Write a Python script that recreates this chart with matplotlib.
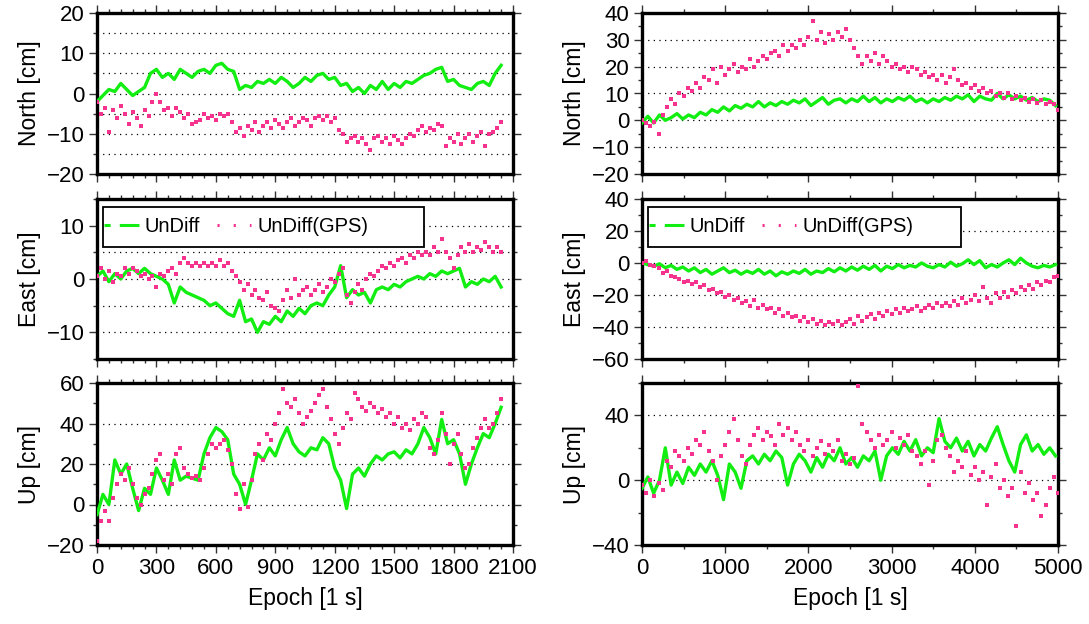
import matplotlib
matplotlib.use("Agg")
import matplotlib.pyplot as plt
from matplotlib.ticker import MultipleLocator
from matplotlib.lines import Line2D
from matplotlib.patches import Rectangle
import numpy as np

plt.rcParams['font.family'] = ['Liberation Sans', 'DejaVu Sans']

GREEN = '#12ee12'
PINK = '#f5338f'

# sample epochs (left run ~2040 s, right run ~5000 s)
ep_left_g = np.arange(0, 2041, 30)
ep_left_p = np.arange(0, 2041, 20)
ep_right_g = np.arange(0, 4971, 70)
ep_right_p = np.arange(0, 5001, 50)

# ---- left column, UnDiff (green) ----
north_l = [-2, -0.5, 1, 0.5, 2.5, 1, -0.5, 0.5, 1.5, 5,
           6, 4, 5, 3.5, 6, 5, 4, 5.5, 6, 5,
           7, 7.5, 6, 5.5, 1, 2, 1.5, 3, 2.5, 3.5,
           2.5, 4, 3, 1.5, 2.5, 4, 3, 4.5, 5, 3.5,
           4, 2, 2.5, 0.5, 1.5, 0, 2, 1, 3, 1,
           2.5, 1.5, 3, 2.5, 3.5, 4.5, 5, 6, 6.5, 3,
           3.5, 2, 1.5, 1, 2.5, 3, 2, 5, 7]
east_l = [0.5, 1.5, -0.5, 1, 0, 1.5, 2, 1, 2, 1,
          0.5, 0, -1, -4.5, -1.5, -2.5, -3, -3.5, -4, -5,
          -4.5, -5.5, -6.5, -7, -4, -8, -7.5, -10, -8, -8.5,
          -7, -8, -6, -7, -5.5, -6.5, -5, -4.5, -5, -3,
          -1.5, 2.5, -3.5, -2, -3, -2.5, -4.5, -2, -1.5, -2,
          -1, -1.5, -0.5, 0, 0.5, 0, 1, 0.5, 1.5, 1,
          1.5, 2, -1.5, -0.5, -1, 0, -0.5, 0.5, -1.5]
up_l = [-5, 5, 0, 22, 15, 20, 8, -3, 8, 5,
        18, 12, 5, 22, 12, 14, 13, 12, 25, 33,
        38, 36, 32, 15, 10, 0, 12, 25, 22, 28,
        24, 32, 38, 30, 26, 24, 28, 27, 33, 30,
        18, 12, -2, 15, 18, 14, 20, 24, 22, 25,
        26, 23, 27, 25, 30, 38, 33, 25, 42, 30,
        32, 25, 10, 20, 28, 35, 33, 40, 48]

# ---- left column, UnDiff(GPS) (pink) ----
north_lp = [-2, -5, -3.5, -9.5, -4, -6, -3, -5, -7.5, -4.5,
            -6, -8, -4, -5.5, -2, 0, -2, -4, -3.5, -5.5,
            -3.5, -4.5, -6, -5, -7.5, -7, -6.5, -5, -6, -5.5,
            -6.5, -5, -5.5, -5, -7, -9.5, -8.5, -10.5, -8, -9,
            -7, -9.5, -8, -7, -8.5, -6.5, -7.5, -8.5, -7, -6,
            -8, -7, -6, -6.5, -8, -6, -5.5, -6.5, -5.5, -7,
            -6, -9, -10, -12, -11, -10.5, -12, -11, -12.5, -14,
            -11, -10.5, -12, -11, -12.5, -10.5, -11.5, -12.5, -11, -10,
            -10.5, -9, -8, -9.5, -8.5, -9, -7.5, -8, -13, -11,
            -12, -10, -12.5, -11, -10, -12, -10.5, -9.5, -13, -10,
            -9.5, -8.5, -7]
east_lp = [0.5, 2, 0, 1.5, -0.5, 1, 0.5, 2, 1, 2,
           1.5, 0.5, 1, 0, 0.5, -1.5, 1, 0.5, 1.5, 2,
           1, 3, 4, 3, 2.5, 3, 2.5, 3, 2.5, 3,
           2.5, 3.5, 2.5, 3, 1.5, 0.5, -0.5, -2, -1, -3,
           -2, -3.5, -4, -2.5, -5, -5.5, -6, -4, -2, -3.5,
           0, -3, -2, -1.5, -3, -2, -1, -2.5, -1.5, 0,
           -0.5, 1, 2, -3, -4.5, -2.5, -1, -2, 0, 1,
           0.5, 1.5, 2.5, 2, 3, 2.5, 3.5, 4, 3, 4.5,
           4, 5, 4.5, 5, 4.5, 6, 5, 7.5, 5, 4,
           2, 4.5, 6, 5, 6.5, 5, 6, 5.5, 7, 6,
           5, 6, 5]
up_lp = [-18, -8, -3, -8, 3, 10, 15, 12, 18, 10,
         3, 0, 5, 8, 15, 22, 25, 12, 15, 10,
         25, 28, 18, 15, 13, 14, 12, 18, 25, 30,
         28, 30, 32, 27, 20, 5, -2, 10, -1, 12,
         25, 30, 22, 35, 32, 40, 45, 57, 50, 48,
         52, 45, 40, 43, 46, 50, 54, 57, 48, 42,
         35, 30, 38, 45, 42, 55, 52, 48, 46, 50,
         48, 45, 47, 43, 45, 40, 43, 38, 40, 37,
         42, 40, 45, 43, 28, 25, 32, 45, 35, 20,
         30, 35, 25, 18, 20, 28, 33, 38, 42, 38,
         40, 45, 52]

# ---- right column, UnDiff (green) ----
north_r = [-1, 1.5, -1, 2, 0, 1, 2.5, 0.5, 2, 1,
           3, 2, 4, 3, 5, 3.5, 5.5, 4.5, 6, 5,
           7, 5, 6.5, 5.5, 7, 6, 7.5, 6.5, 8, 5.5,
           7, 8.5, 6, 7.5, 8, 6.5, 8, 7, 9, 7,
           8.5, 6.5, 8, 7, 8.5, 7.5, 9, 7, 8, 6.5,
           8, 7, 8.5, 7.5, 9, 8, 9.5, 7, 9, 8,
           7.5, 10, 8, 9.5, 8, 9, 7.5, 8.5, 7, 8,
           7.5, 5.5]
east_r = [0, -1, -2, -0.5, -3, -1.5, -4, -2.5, -5, -3,
          -6, -4, -7, -5, -3, -6, -4.5, -7, -5, -6.5,
          -4, -7, -5, -8, -5.5, -7, -5, -6.5, -4, -7,
          -5, -6, -3.5, -5.5, -3, -5, -2.5, -4.5, -2, -4,
          -1.5, -5, -2, -3.5, -1, -3, -1.5, -2.5, 0, -2,
          -3, -1, -2.5, 0.5, -2, -0.5, 2, -1, 1.5, -3,
          -1, -2.5, 0, 2, -1, 3, 0, -2, -3, -1.5,
          -2.5, -1]
up_r = [-5, 2, -8, 0, 20, -3, 5, -2, 8, 3,
        10, 5, 12, 3, -12, 10, 5, -5, 12, 15,
        10, 16, 12, 18, 14, -3, 10, 16, 12, 5,
        14, 8, 16, 12, 20, 10, 14, 8, 15, 12,
        18, 0, 15, 20, 16, 24, 18, 25, 15, 20,
        17, 38, 24, 20, 26, 18, 24, 15, 22, 18,
        26, 33, 22, 12, 5, 22, 28, 18, 22, 16,
        20, 15]

# ---- right column, UnDiff(GPS) (pink) ----
north_rp = [0, -1, -2, -0.5, -5, 2, 5, 8, 6, 10,
            9, 12, 11, 14, 12, 16, 15, 19, 14, 20,
            17, 19, 21, 18, 20, 19, 23, 20, 22, 24,
            23, 25, 26, 24, 28, 26, 28, 27, 30, 28,
            31, 37, 30, 33, 29, 32, 30, 33, 31, 34,
            30, 27, 24, 21, 24, 22, 25, 21, 24, 22,
            20, 21, 19, 20, 18, 20, 19, 17, 18, 16,
            17, 15, 17, 14, 16, 19, 15, 13, 14, 12,
            13, 11, 12, 10, 11, 9, 10, 8.5, 10, 8,
            9, 7.5, 8.5, 7, 8, 6.5, 7.5, 6, 7, 6,
            4]
east_rp = [0, 1, -1, -2, -3, -6, -5, -8, -9, -10,
           -12, -11, -13, -12, -15, -14, -17, -16, -19, -18,
           -21, -20, -23, -22, -25, -24, -27, -23, -28, -26,
           -29, -28, -31, -29, -33, -31, -34, -33, -36, -34,
           -37, -35, -38, -36, -39, -37, -38, -36, -39, -37,
           -35, -38, -33, -36, -34, -32, -35, -31, -33, -30,
           -32, -29, -31, -28, -30, -29, -27, -30, -28, -26,
           -28, -25, -27, -25, -27, -24, -26, -22, -25, -23,
           -20, -24, -15, -22, -25, -19, -22, -18, -21, -17,
           -19, -15, -17, -14, -16, -12, -14, -11, -12, -9,
           -8]
up_rp = [-3, -8, 0, -10, -2, -6, 12, 8, 18, 15,
         12, 20, 16, 25, 22, 30, 18, 12, 0, 15,
         22, 30, 38, 25, 15, 10, 22, 28, 32, 25,
         30, 27, 22, 35, 28, 32, 25, 30, 22, 18,
         25, 15, 20, 24, 16, 22, 18, 25, 12, 16,
         10, 14, 58, 35, 30, 25, 20, 28, 22, 25,
         30, 20, 26, 22, 28, 18, 15, 10, 18, -3,
         12, 25, 28, 20, 15, 5, 12, 8, 18, 3,
         8, 0, 5, -15, 2, 10, -5, 0, -10, -5,
         -28, 5, -8, -2, -12, -8, -22, -15, -5, 2,
         -8]

# axes setup: (ylim, ymajor, yminor, grid on minor too, label)
left_rows = [((-20, 20), 10, 5, True, 'North [cm]', north_l, north_lp),
             ((-15, 15), 10, 5, True, 'East [cm]', east_l, east_lp),
             ((-20, 60), 20, 10, False, 'Up [cm]', up_l, up_lp)]
right_rows = [((-20, 40), 10, 5, False, 'North [cm]', north_r, north_rp),
              ((-60, 40), 20, 10, False, 'East [cm]', east_r, east_rp),
              ((-40, 60), 40, 20, False, 'Up [cm]', up_r, up_rp)]

fig = plt.figure(figsize=(10.89, 6.24), dpi=100)
W, H = 1089, 624
col_x = [97, 642]
row_y = [(13, 174), (199, 359), (383, 545)]
aw = 416
leg_w = [0.772, 0.752]

cols = [(left_rows, ep_left_g, ep_left_p, (0, 2100), 300, 60),
        (right_rows, ep_right_g, ep_right_p, (0, 5000), 1000, 500)]

for ci, (rows, xg, xp, xlim, xmaj, xmin) in enumerate(cols):
    for ri, (ylim, ymaj, ymin, gminor, lab, yg, yp) in enumerate(rows):
        top, bot = row_y[ri]
        ax = fig.add_axes([col_x[ci] / W, 1 - bot / H, aw / W, (bot - top) / H])
        ax.plot(xg, yg, color=GREEN, lw=2.4, zorder=3)
        ax.plot(xp, yp, ls='none', marker='s', ms=2.2, mew=0, color=PINK, zorder=4)
        ax.set_xlim(*xlim)
        ax.set_ylim(*ylim)
        ax.xaxis.set_major_locator(MultipleLocator(xmaj))
        ax.xaxis.set_minor_locator(MultipleLocator(xmin))
        ax.yaxis.set_major_locator(MultipleLocator(ymaj))
        ax.yaxis.set_minor_locator(MultipleLocator(ymin))
        ax.tick_params(which='both', direction='out', top=True, right=True,
                       labelsize=16, width=1.0, color='#333333', pad=3)
        ax.tick_params(which='major', length=6)
        ax.tick_params(which='minor', length=3)
        ax.grid(axis='y', which='both' if gminor else 'major',
                color='black', ls=(0, (1, 3.5)), lw=0.9)
        ax.set_axisbelow(True)
        for s in ax.spines.values():
            s.set_linewidth(2.4)
        ax.set_ylabel(lab, fontsize=16.5, labelpad=4)
        if ri < 2:
            ax.tick_params(labelbottom=False)
        else:
            ax.set_xlabel('Epoch [1 s]', fontsize=16.5, labelpad=6)
        if ri == 1:
            box = Rectangle((0.0144, 0.70), leg_w[ci], 0.25, transform=ax.transAxes,
                            facecolor='white', edgecolor='black', lw=1.3, zorder=9)
            ax.add_patch(box)
            h1 = Line2D([], [], color=GREEN, lw=2.2, ls=(0, (2.0, 3.0, 6.0, 0.01)))
            h2 = Line2D([], [], color=PINK, lw=2.2, ls=(0, (0.7, 4.6)))
            leg = ax.legend([h1, h2], ['UnDiff', 'UnDiff(GPS)'], loc='center left',
                            bbox_to_anchor=(0.018, 0.825), ncol=2, fontsize=14.5,
                            frameon=False, handlelength=1.7, handletextpad=0.3,
                            columnspacing=0.85, borderpad=0.0, borderaxespad=0)
            leg.set_zorder(10)

fig.savefig('out.png', dpi=100)
